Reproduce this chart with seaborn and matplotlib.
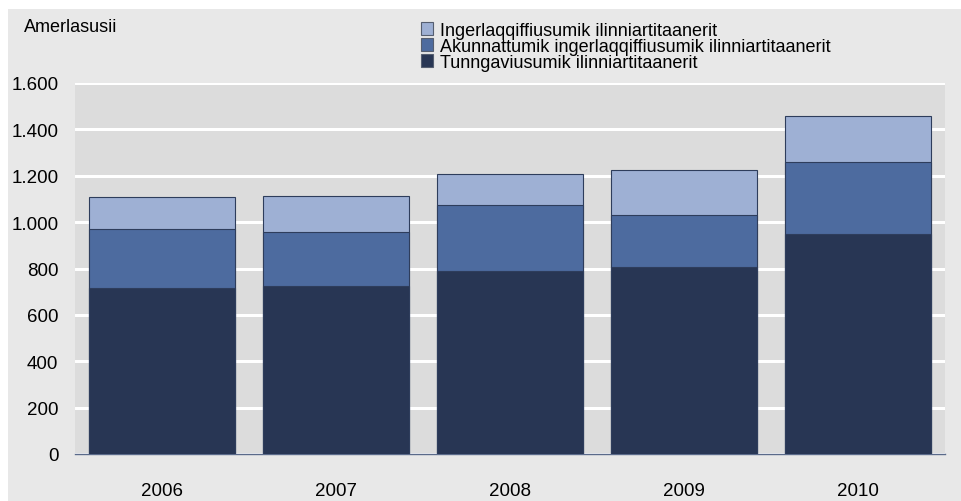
import numpy as np
import pandas as pd
import seaborn as sns
import matplotlib.pyplot as plt
from matplotlib.patches import Rectangle, Patch

years = ["2006", "2007", "2008", "2009", "2010"]
tunngaviusumik = [715, 723, 790, 806, 949]
akunnattumik = [257, 233, 282, 223, 309]
ingerlaqqiffiusumik = [135, 158, 135, 194, 201]

labels = ["Ingerlaqqiffiusumik ilinniartitaanerit",
          "Akunnattumik ingerlaqqiffiusumik ilinniartitaanerit",
          "Tunngaviusumik ilinniartitaanerit"]
colors = ["#9eb0d4", "#4d6b9f", "#283654"]
edge = "#2e3d5c"

sns.set_theme(style="white")
plt.rcParams['font.family'] = ['Liberation Sans', 'DejaVu Sans']
plt.rcParams['text.color'] = 'black'
plt.rcParams['xtick.color'] = 'black'
plt.rcParams['ytick.color'] = 'black'

df = pd.DataFrame({"year": years,
                   "low": tunngaviusumik,
                   "mid": np.array(tunngaviusumik) + np.array(akunnattumik),
                   "top": np.array(tunngaviusumik) + np.array(akunnattumik) + np.array(ingerlaqqiffiusumik)})

fig = plt.figure(figsize=(9.61, 5.02), dpi=100, facecolor='white')
fig.patches.append(Rectangle((8 / 961, 0), 1, 492 / 502, transform=fig.transFigure,
                             facecolor="#e8e8e8", edgecolor="none", zorder=-10))
ax = fig.add_axes([75 / 961, 47 / 502, 870 / 961, 371 / 502])
ax.set_facecolor("#dcdcdc")

# stacked bars: draw the totals first, then the lower parts on top
for col, c in zip(["top", "mid", "low"], colors):
    sns.barplot(data=df, x="year", y=col, color=c, width=0.84, saturation=1,
                edgecolor=edge, linewidth=0.8, ax=ax, zorder=3)

ax.set_ylim(0, 1600)
ax.set_xlim(-0.5, 4.5)
ax.set_yticks(range(0, 1601, 200))
ax.set_yticklabels([f"{v:,}".replace(",", ".") for v in range(0, 1601, 200)], fontsize=13.5)
ax.tick_params(axis='x', labelsize=13.5, length=0, pad=20)
ax.tick_params(axis='y', length=0, pad=12)
ax.set_xticks([-0.5, 3.5], minor=True)
ax.tick_params(axis='x', which='minor', length=6, color="#5a6a8a", width=0.8)
ax.grid(axis='y', color='white', linewidth=2.2, zorder=0)
ax.set_axisbelow(True)
for s in ["top", "right", "left"]:
    ax.spines[s].set_visible(False)
ax.spines["bottom"].set_color("#5a6a8a")
ax.spines["bottom"].set_linewidth(1)
ax.set_xlabel("")
ax.set_ylabel("")

fig.text(24 / 961, 1 - 28 / 502, "Amerlasusii", fontsize=13, va='center', ha='left')

handles = [Patch(facecolor=c, edgecolor="#555e70", linewidth=0.8) for c in colors]
fig.legend(handles, labels, loc='upper left', bbox_to_anchor=(408 / 961, 1 - 10 / 502),
           frameon=False, fontsize=13, labelspacing=-0.05, handlelength=0.7,
           handleheight=0.7, handletextpad=0.4, borderpad=0.2)

fig.savefig("out.png", dpi=100, facecolor=fig.get_facecolor())
